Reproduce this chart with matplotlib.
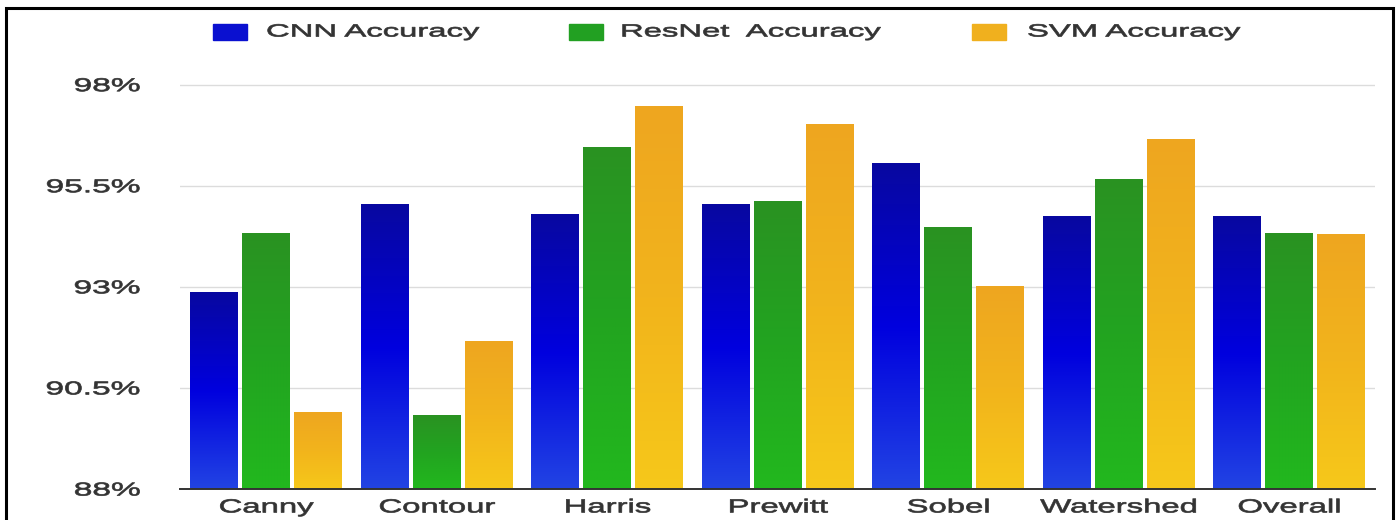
import numpy as np
import matplotlib
matplotlib.use("Agg")
import matplotlib.pyplot as plt
from matplotlib.colors import LinearSegmentedColormap
from matplotlib.patches import Rectangle
from matplotlib.patheffects import AbstractPathEffect
from matplotlib.transforms import Affine2D

# accuracy (%) per edge/feature method
methods = ["Canny", "Contour", "Harris", "Prewitt", "Sobel", "Watershed", "Overall"]
cnn_acc = [92.86, 95.04, 94.80, 95.04, 96.04, 94.75, 94.75]
resnet_acc = [94.32, 89.81, 96.45, 95.12, 94.48, 95.66, 94.32]
svm_acc = [89.88, 91.65, 97.47, 97.02, 93.01, 96.65, 94.29]
series_names = ["CNN Accuracy", "ResNet  Accuracy", "SVM Accuracy"]

y_ticks = [88, 90.5, 93, 95.5, 98]
y_tick_labels = ["88%", "90.5%", "93%", "95.5%", "98%"]

W, H = 1396, 520
TEXT = "#333333"
plt.rcParams["font.family"] = ["Liberation Sans", "DejaVu Sans"]


class Widen(AbstractPathEffect):
    """Stretch a text path sideways around its left, centre or right edge,
    with a thin outline so the strokes keep some weight."""

    def __init__(self, sx, anchor="center", weight=0.5):
        super().__init__()
        self.sx = sx
        self.anchor = anchor
        self.weight = weight

    def draw_path(self, renderer, gc, tpath, affine, rgbFace=None):
        pts = affine.transform(tpath.vertices)
        if len(pts):
            x0, x1 = pts[:, 0].min(), pts[:, 0].max()
            ref = {"left": x0, "right": x1}.get(self.anchor, (x0 + x1) / 2)
            affine = affine + Affine2D().translate(-ref, 0).scale(self.sx, 1).translate(ref, 0)
        renderer.draw_path(gc, tpath, affine, rgbFace)
        if self.weight and rgbFace is not None:
            gc0 = renderer.new_gc()
            gc0.copy_properties(gc)
            gc0.set_foreground(rgbFace)
            gc0.set_linewidth(self.weight)
            renderer.draw_path(gc0, tpath, affine, None)
            gc0.restore()


# bottom -> middle -> top colours of each bar fill
gradients = [
    LinearSegmentedColormap.from_list("cnn", ["#2244e4", "#0000de", "#0808a0"]),
    LinearSegmentedColormap.from_list("resnet", ["#22b81e", "#22a420", "#2a9222"]),
    LinearSegmentedColormap.from_list("svm", ["#f6c81a", "#f2b41c", "#eea620"]),
]
legend_colors = ["#0a10d0", "#22a022", "#f0b01e"]

fig = plt.figure(figsize=(W / 100, H / 100), dpi=100)
ax = fig.add_axes([180 / W, 31 / H, 1195 / W, 412.4 / H])

x = np.arange(len(methods))
offsets = [-0.305, 0.0, 0.305]
width = 0.278
ramp = np.linspace(0, 1, 256).reshape(-1, 1)

for vals, off, cmap, col in zip([cnn_acc, resnet_acc, svm_acc], offsets, gradients, legend_colors):
    bars = ax.bar(x + off, vals, width, color=col, zorder=2)
    for rect in bars:
        x0, w, top = rect.get_x(), rect.get_width(), rect.get_height()
        ax.imshow(ramp, cmap=cmap, origin="lower", aspect="auto", zorder=2.1,
                  extent=(x0, x0 + w, y_ticks[0], top), interpolation="bilinear")

ax.set_xlim(-0.505, 6.505)
ax.set_ylim(88, 98.2)

ax.set_yticks(y_ticks)
ax.set_yticklabels(y_tick_labels)
ax.set_xticks(x)
ax.set_xticklabels(methods)
ax.tick_params(axis="y", length=0, pad=28.8, labelsize=13.4, labelcolor=TEXT)
ax.tick_params(axis="x", length=0, pad=7.5, labelsize=13.6, labelcolor=TEXT)
for lbl in ax.get_yticklabels():
    lbl.set_path_effects([Widen(1.8, "right")])
for lbl in ax.get_xticklabels():
    lbl.set_path_effects([Widen(1.74, "center")])

ax.grid(axis="y", color="#dcdcdc", linewidth=1.0)
ax.set_axisbelow(True)
for side in ["top", "right", "left"]:
    ax.spines[side].set_visible(False)
ax.spines["bottom"].set_color("#333333")
ax.spines["bottom"].set_linewidth(1.4)
ax.spines["bottom"].set_zorder(3)

# legend row across the top
patch_x = [213, 569, 972]
label_x = [266, 620, 1027]
for px, lx, name, col in zip(patch_x, label_x, series_names, legend_colors):
    fig.add_artist(Rectangle((px / W, 1 - 40 / H), 34 / W, 16 / H,
                             transform=fig.transFigure, color=col))
    fig.text(lx / W, 1 - 32 / H, name, ha="left", va="center", fontsize=12.7,
             color=TEXT, path_effects=[Widen(1.86, "left")])

# black frame around the chart
fig.add_artist(Rectangle((6 / W, -0.05), 1387 / W, 1.05 - 8 / H,
                         transform=fig.transFigure, fill=False,
                         edgecolor="black", linewidth=2.2))

fig.savefig("out.png", dpi=100)
